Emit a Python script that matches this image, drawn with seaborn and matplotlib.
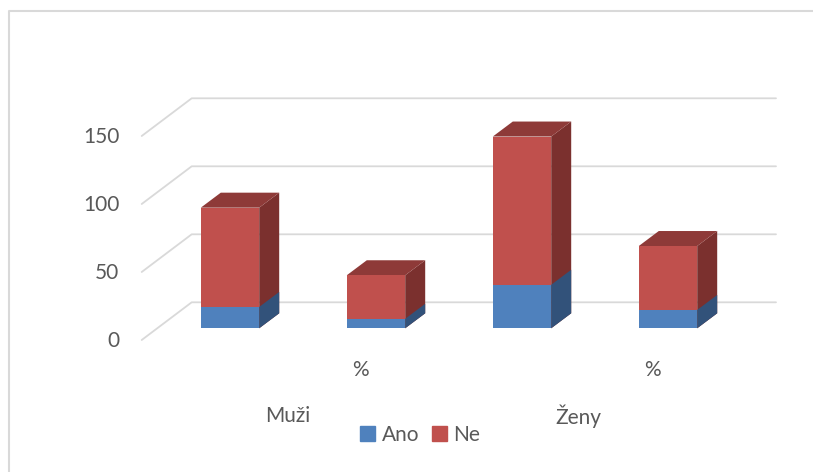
import pandas as pd
import matplotlib.pyplot as plt
import seaborn as sns
from matplotlib.lines import Line2D
from matplotlib.patches import Patch, Polygon
from matplotlib.transforms import IdentityTransform, ScaledTranslation

sns.set_theme(style="white")
plt.rcParams['font.family'] = ['Lato', 'DejaVu Sans']

# Data
sloupce = ["Muži", "Muži %", "Ženy", "Ženy %"]
ano = [15.7, 7, 32, 13.5]
ne = [73, 32, 109, 47]
y_ticks = [0, 50, 100, 150]
popisky_pod = ["%", "%"]
popisky_skupin = ["Muži", "Ženy"]

MODRA, CERVENA = "#4F81BD", "#C0504D"
BOK_M, BOK_C, VRCH_C = "#32527A", "#7B302E", "#8E3A38"
SEDA, TEXT = "#D9D9D9", "#595959"
W, H = 813, 472

fig = plt.figure(figsize=(W / 100, H / 100), dpi=100)
fig.patch.set_facecolor("white")
# ramecek: jen horni a leva hrana
fig.add_artist(Line2D([8.5 / W, 8.5 / W, 1], [0, 1 - 10.5 / H, 1 - 10.5 / H], transform=fig.transFigure,
                      color=SEDA, lw=1.5))

# y=0 at pixel 328.3, 1.36 px per unit; one category = 146 px
ax = fig.add_axes([157 / W, 1 - 328.3 / H, 584 / W, 1.36 * 180 / H])
df = pd.DataFrame({"sloupec": sloupce, "Ano": ano, "Ne": ne})
df["celkem"] = df["Ano"] + df["Ne"]
sns.barplot(data=df, x="sloupec", y="celkem", color=CERVENA, width=0.4, saturation=1, linewidth=0, ax=ax, zorder=3)
sns.barplot(data=df, x="sloupec", y="Ano", color=MODRA, width=0.4, saturation=1, linewidth=0, ax=ax, zorder=4)
ax.set_xlim(-0.5, 3.5)
ax.set_ylim(0, 180)
ax.set_xlabel("")
ax.set_ylabel("")
ax.set_xticks([])
ax.set_yticks(y_ticks)
ax.tick_params(axis="y", length=0, pad=27, labelsize=15, labelcolor=TEXT)
sns.despine(ax=ax, left=True, bottom=True)
ax.patch.set_alpha(0)

# posun popisku osy dolu na predni hranu steny
posun = ScaledTranslation(0, -11 / 100, fig.dpi_scale_trans)
for lab in ax.get_yticklabels():
    lab.set_transform(lab.get_transform() + posun)

# mrizka: zadni stena a sikma cast
for v in y_ticks:
    y_px = ax.transData.transform((0, v))[1]
    xs = [141.7, 191.7, 776]
    ys = [y_px - 11.7, y_px + 26, y_px + 26]
    ax.add_line(Line2D(xs, ys, transform=IdentityTransform(), color=SEDA, lw=1.3, clip_on=False, zorder=1))

# 3D boky a vrchy
dx = 20 / 146
dy = 15 / 1.36
n = len(sloupce)
cervene, modre = ax.patches[:n], ax.patches[n:]
for cast, bok, vrch in [(cervene, BOK_C, VRCH_C), (modre, BOK_M, None)]:
    for p in cast:
        x0, x1 = p.get_x(), p.get_x() + p.get_width()
        y1 = p.get_height()
        ax.add_patch(Polygon([(x1, 0), (x1 + dx, dy), (x1 + dx, y1 + dy), (x1, y1)],
                             facecolor=bok, edgecolor="none", zorder=2.5 if vrch else 2.6, clip_on=False))
        if vrch:
            ax.add_patch(Polygon([(x0, y1), (x0 + dx, y1 + dy), (x1 + dx, y1 + dy), (x1, y1)],
                                 facecolor=vrch, edgecolor="none", zorder=2.5, clip_on=False))

# popisky kategorii (dve urovne)
for x_px, t in zip([360, 652], popisky_pod):
    fig.text(x_px / W, 1 - 370 / H, t, ha="center", va="center", fontsize=15, color=TEXT)
for x_px, t in zip([288, 578], popisky_skupin):
    fig.text(x_px / W, 1 - 416 / H, t, ha="center", va="center", fontsize=15, color=TEXT)

handles = [Patch(color=MODRA, label="Ano"), Patch(color=CERVENA, label="Ne")]
fig.legend(handles=handles, loc="center", bbox_to_anchor=(420 / W, 1 - 435 / H), ncol=2, frameon=False,
           fontsize=15, labelcolor=TEXT, handlelength=0.72, handleheight=0.72, handletextpad=0.3,
           columnspacing=0.6, borderpad=0)

plt.savefig("out.png", dpi=100)
plt.close()
